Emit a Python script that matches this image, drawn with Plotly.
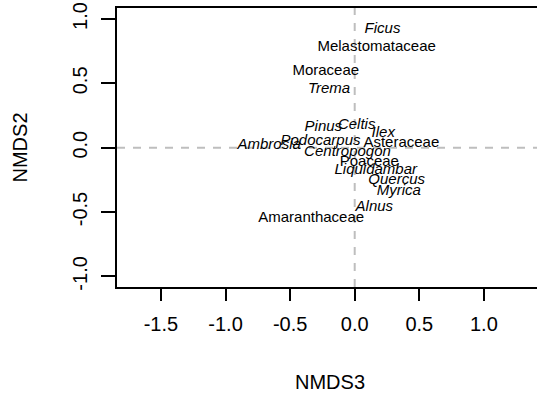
import plotly.graph_objects as go

# Genus labels (italic)
genus_names = ["Ficus", "Trema", "Pinus", "Celtis", "Ilex", "Podocarpus", "Ambrosia",
               "Centropogon", "Liquidambar", "Quercus", "Myrica", "Alnus"]
genus_nmds3 = [0.215, -0.199, -0.243, 0.015, 0.221, -0.265, -0.662, -0.056, 0.163, 0.325, 0.342, 0.152]
genus_nmds2 = [0.922, 0.454, 0.158, 0.176, 0.112, 0.047, 0.021, -0.036, -0.178, -0.256, -0.342, -0.463]

# Family labels (upright)
family_names = ["Melastomataceae", "Moraceae", "Asteraceae", "Poaceae", "Amaranthaceae"]
family_nmds3 = [0.17, -0.224, 0.361, 0.113, -0.337]
family_nmds2 = [0.78, 0.596, 0.034, -0.116, -0.549]

x_ticks = [-1.5, -1.0, -0.5, 0.0, 0.5, 1.0]
x_ticktext = ["-1.5", "-1.0", "-0.5", "0.0", "0.5", "1.0"]
y_ticks = [-1.0, -0.5, 0.0, 0.5, 1.0]
y_ticktext = ["-1.0", "-0.5", "0.0", "0.5", "1.0"]

FONT = "Liberation Sans, Arial, Helvetica, sans-serif"

fig = go.Figure()
fig.add_hline(y=0, line=dict(color="#bebebe", width=2, dash="8px,8px"), layer="below")
fig.add_vline(x=0, line=dict(color="#bebebe", width=2, dash="8px,8px"), layer="below")

fig.add_trace(go.Scatter(
    x=genus_nmds3, y=genus_nmds2, text=genus_names, mode="text",
    textposition="middle center",
    textfont=dict(family=FONT, size=15, color="black", style="italic"),
    hoverinfo="text", showlegend=False))
fig.add_trace(go.Scatter(
    x=family_nmds3, y=family_nmds2, text=family_names, mode="text",
    textposition="middle center",
    textfont=dict(family=FONT, size=15, color="black"),
    hoverinfo="text", showlegend=False))

fig.update_layout(
    width=537, height=398,
    margin=dict(l=117, r=0, t=8, b=111),
    paper_bgcolor="white", plot_bgcolor="white",
    font=dict(family=FONT, size=20, color="black"),
    xaxis=dict(range=[-1.84, 1.411], tickvals=x_ticks, ticktext=x_ticktext,
               showgrid=False, zeroline=False, showline=True, mirror=True,
               linecolor="black", linewidth=2, ticks="outside", ticklen=12,
               tickwidth=2, tickcolor="black", ticklabelstandoff=6,
               tickfont=dict(family=FONT, size=20, color="black")),
    yaxis=dict(range=[-1.0824, 1.0855], tickvals=y_ticks, ticktext=y_ticktext,
               showgrid=False, zeroline=False, showline=True, mirror=False,
               linecolor="black", linewidth=2, ticks="outside", ticklen=14,
               tickwidth=2, tickcolor="black", tickangle=-90, ticklabelstandoff=6,
               tickfont=dict(family=FONT, size=20, color="black")),
    annotations=[
        dict(text="NMDS3", xref="paper", yref="paper", x=0.507, y=-0.339,
             xanchor="center", yanchor="middle", showarrow=False,
             font=dict(family=FONT, size=20, color="black")),
        dict(text="NMDS2", xref="paper", yref="paper", x=-0.231, y=0.5,
             xanchor="center", yanchor="middle", textangle=-90, showarrow=False,
             font=dict(family=FONT, size=20, color="black")),
    ],
)

fig.write_html("out.html")
